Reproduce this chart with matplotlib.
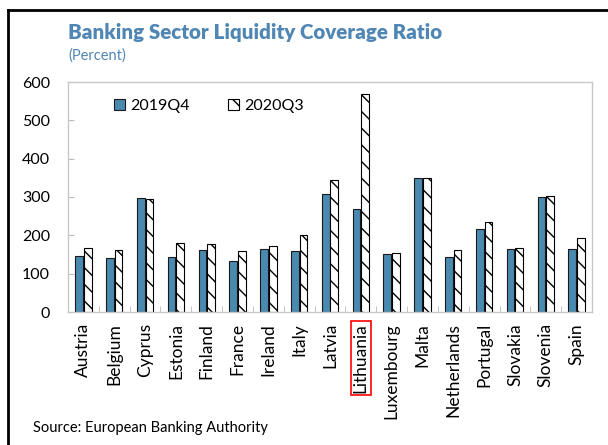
import numpy as np
import matplotlib as mpl
import matplotlib.pyplot as plt
from matplotlib.lines import Line2D

countries = ['Austria', 'Belgium', 'Cyprus', 'Estonia', 'Finland', 'France',
             'Ireland', 'Italy', 'Latvia', 'Lithuania', 'Luxembourg', 'Malta',
             'Netherlands', 'Portugal', 'Slovakia', 'Slovenia', 'Spain']
q4_2019 = [146, 141, 298, 144, 163, 132, 165, 160, 308, 270, 151, 349,
           143, 217, 164, 300, 165]
q3_2020 = [168, 163, 295, 181, 177, 159, 172, 202, 345, 569, 154, 350,
           161, 234, 168, 303, 192]

mpl.rcParams['font.family'] = ['Lato', 'DejaVu Sans']
mpl.rcParams['hatch.linewidth'] = 1.0

fig = plt.figure(figsize=(6.08, 4.45), dpi=100)
ax = fig.add_axes([68/608, 1-312/445, (592-68)/608, (312-82)/445])

x = np.arange(len(countries))
w = 0.25
ax.bar(x - 0.14, q4_2019, w, color='#4a89b0', edgecolor='#1a1a1a', lw=0.8, label='2019Q4')
ax.bar(x + 0.14, q3_2020, w, color='white', edgecolor='black', lw=0.8,
       hatch='\\\\', label='2020Q3')

ax.set_xlim(-0.5, len(countries) - 0.5)
ax.set_ylim(0, 600)
ax.set_yticks(range(0, 601, 100))
ax.tick_params(axis='y', direction='in', length=4, color='#bbbbbb', labelsize=11.5, pad=13)
ax.set_xticks(x)
ax.set_xticklabels(countries, rotation=90, fontsize=12.5)
ax.tick_params(axis='x', length=0, pad=8)
ax.set_xticks(np.arange(-0.5, len(countries)), minor=True)
ax.tick_params(axis='x', which='minor', direction='in', length=4, color='#bbbbbb')
for s in ax.spines.values():
    s.set_color('#c8c8c8')
    s.set_linewidth(1.0)

leg = ax.legend(loc='upper left', bbox_to_anchor=(0.06, 0.99), ncol=2, frameon=False,
                fontsize=11.5, handlelength=0.7, handleheight=0.7, handletextpad=0.3,
                columnspacing=2.4)

# red box round Lithuania
lab = ax.get_xticklabels()[countries.index('Lithuania')]
lab.set_bbox(dict(facecolor='none', edgecolor='red', lw=1.2, pad=1.5))

fig.text(68/608, 1-32/445, 'Banking Sector Liquidity Coverage Ratio', fontsize=14.8,
         fontweight='heavy', color='#4f86b4', va='center')
fig.text(68/608, 1-56/445, '(Percent)', fontsize=10.5, color='#4f86b4', va='center')
fig.text(33/608, 1-428/445, 'Source: European Banking Authority', fontsize=10.5, va='center')

# outer frame lines (top and left)
fig.add_artist(Line2D([8/608, 1], [1-10/445, 1-10/445], color='black', lw=2))
fig.add_artist(Line2D([8/608, 8/608], [0, 1-10/445], color='black', lw=2))

fig.savefig('out.png', dpi=100)
